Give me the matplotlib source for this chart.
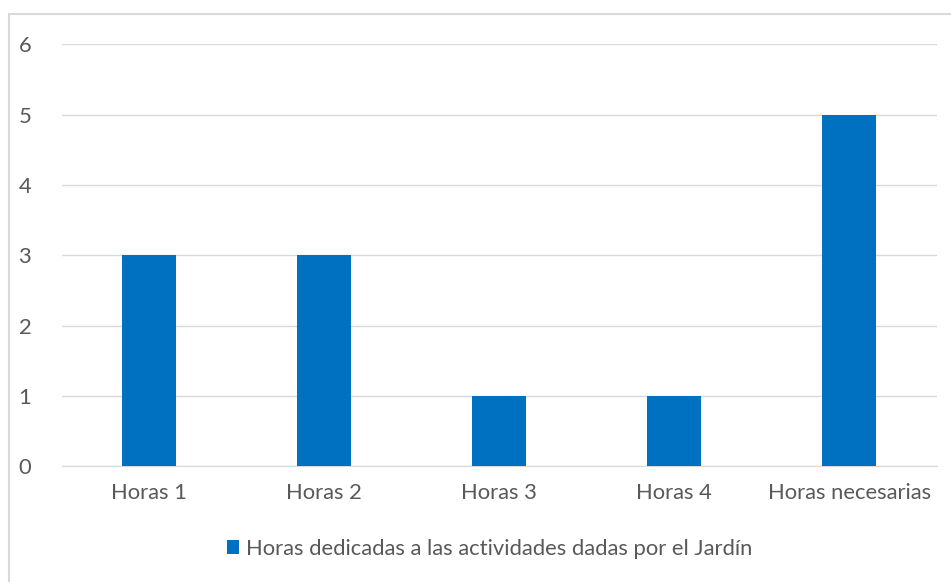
import matplotlib.pyplot as plt
import numpy as np
from matplotlib.patches import Rectangle

categories = ["Horas 1", "Horas 2", "Horas 3", "Horas 4", "Horas necesarias"]
values = [3, 3, 1, 1, 5]
series_name = "Horas dedicadas a las actividades dadas por el Jardín"

plt.rcParams["font.family"] = ["Lato", "DejaVu Sans"]
text_color = "#595959"

fig = plt.figure(figsize=(9.51, 5.82), dpi=100)
ax = fig.add_axes([0.065, 0.199, 0.92, 0.725])

# chart border
fig.patches.append(Rectangle((9 / 951, -0.01), 1.0, 0.976 + 0.01, transform=fig.transFigure,
                             fill=False, edgecolor="#d9d9d9", linewidth=1.5))

xpos = np.arange(len(categories))
ax.bar(xpos, values, width=0.31, color="#0070C0", label=series_name, zorder=3)

ax.set_xlim(-0.5, len(categories) - 0.5)
ax.set_ylim(0, 6)
ax.set_yticks(range(0, 7))
ax.set_xticks(xpos, categories)
ax.grid(axis="y", color="#d9d9d9", linewidth=1, zorder=0)
for s in ["top", "right", "left"]:
    ax.spines[s].set_visible(False)
ax.spines["bottom"].set_color("#d9d9d9")
ax.tick_params(axis="both", length=0, colors=text_color, labelsize=15.8)
ax.tick_params(axis="x", pad=12)
ax.tick_params(axis="y", pad=22)

fig.legend(loc="center", bbox_to_anchor=(0.515, 0.057), frameon=False, fontsize=15.8,
           labelcolor=text_color, handlelength=0.55, handleheight=0.55, handletextpad=0.3)

fig.savefig("out.png", dpi=100)
